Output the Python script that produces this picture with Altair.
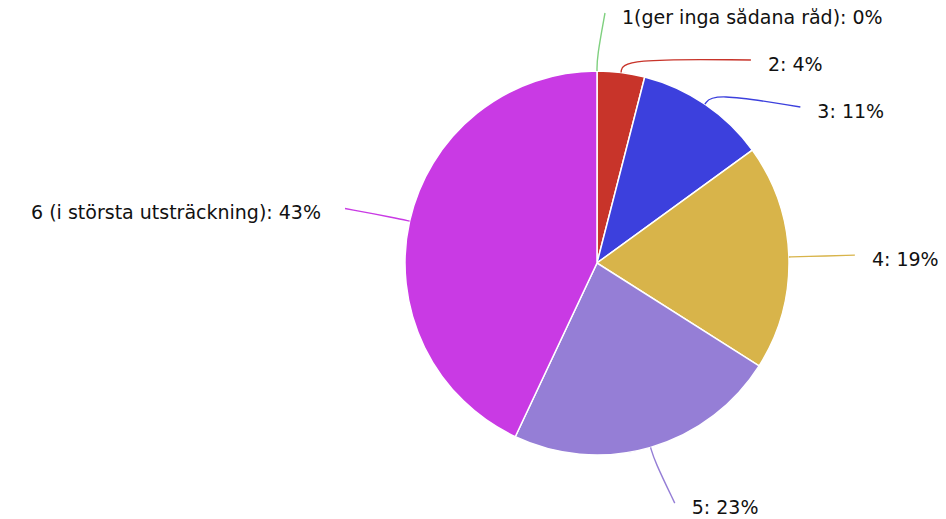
import math
import altair as alt
import pandas as pd

# ---- data ----
categories = ["1(ger inga sådana råd)", "2", "3", "4", "5", "6 (i största utsträckning)"]
shares = [0, 4, 11, 19, 23, 43]
colors = ["#7fd07f", "#c8342a", "#3c40dd", "#d8b44a", "#957ed6", "#c93ae4"]

# ---- layout ----
PAD_T = 6
W, H = 930, 497
CX, CY, R = 589, 249, 192
R_OUT = 14      # radial part of connector
R_LAB = 250     # label circle
GAP = 47        # minimum vertical gap between labels on a side
FS = 19

total = sum(shares)
rows, pts, labs = [], [], []
start = 0.0
mids = []
for i, (c, s) in enumerate(zip(categories, shares)):
    a = 2 * math.pi * (start + s / 2) / total
    mids.append(a)
    rows.append({"cat": c, "value": s, "order": i})
    start += s

# label positions with simple collision avoidance
ly = {}
for side in (1, -1):
    idx = [i for i, a in enumerate(mids) if (math.sin(a) >= -1e-9) == (side == 1)]
    idx.sort(key=lambda i: mids[i] if side == 1 else -mids[i])
    prev = None
    for i in idx:
        y = CY - R_LAB * math.cos(mids[i])
        if prev is not None:
            y = max(y, prev + GAP)
        ly[i] = y
        prev = y

for i, (c, s) in enumerate(zip(categories, shares)):
    a = mids[i]
    side = 1 if math.sin(a) >= -1e-9 else -1
    ex, ey = CX + R * math.sin(a), CY - R * math.cos(a)
    rx, ry = CX + (R + R_OUT) * math.sin(a), CY - (R + R_OUT) * math.cos(a)
    y = ly[i]
    dy = min(abs(y - CY), R_LAB)
    x = CX + side * (math.sqrt(R_LAB ** 2 - dy ** 2) + 8)
    for k, (px, py) in enumerate([(ex, ey), (rx, ry), (x, y)]):
        pts.append({"cat": c, "k": k, "x": px, "y": py})
    labs.append({"cat": c, "text": f"{c}: {s}%", "x": x + side * (17 if side == 1 else 24),
                 "y": y + 5, "side": "R" if side == 1 else "L"})

df = pd.DataFrame(rows)
dp = pd.DataFrame(pts)
dl = pd.DataFrame(labs)

color = alt.Color("cat:N", scale=alt.Scale(domain=categories, range=colors), legend=None)
xs = alt.Scale(domain=[0, W], range=[0, W])
ys = alt.Scale(domain=[0, H], range=[0, H])

pie = alt.Chart(df).mark_arc(outerRadius=R, stroke="white", strokeWidth=1.5).encode(
    theta=alt.Theta("value:Q", stack=True),
    order=alt.Order("order:Q"),
    color=color,
    x=alt.value(CX),
    y=alt.value(CY),
)

lines = alt.Chart(dp).mark_line(strokeWidth=1.4, interpolate="basis").encode(
    x=alt.X("x:Q", scale=xs, axis=None),
    y=alt.Y("y:Q", scale=ys, axis=None),
    detail="cat:N",
    order="k:Q",
    color=color,
)

txt_base = alt.Chart(dl).encode(
    x=alt.X("x:Q", scale=xs, axis=None),
    y=alt.Y("y:Q", scale=ys, axis=None),
    text="text:N",
)
txt_r = txt_base.transform_filter("datum.side == 'R'").mark_text(
    align="left", baseline="middle", font="DejaVu Sans", fontSize=FS, color="#111111")
txt_l = txt_base.transform_filter("datum.side == 'L'").mark_text(
    align="right", baseline="middle", font="DejaVu Sans", fontSize=FS, color="#111111")

chart = alt.layer(pie, lines, txt_r, txt_l).properties(
    width=W, height=H, autosize=alt.AutoSizeParams(type="none"),
    padding={"top": PAD_T, "left": 0, "right": 0, "bottom": 13}
).configure_view(stroke=None)

chart.save("out.html", embed_options={"renderer": "svg", "actions": False})
